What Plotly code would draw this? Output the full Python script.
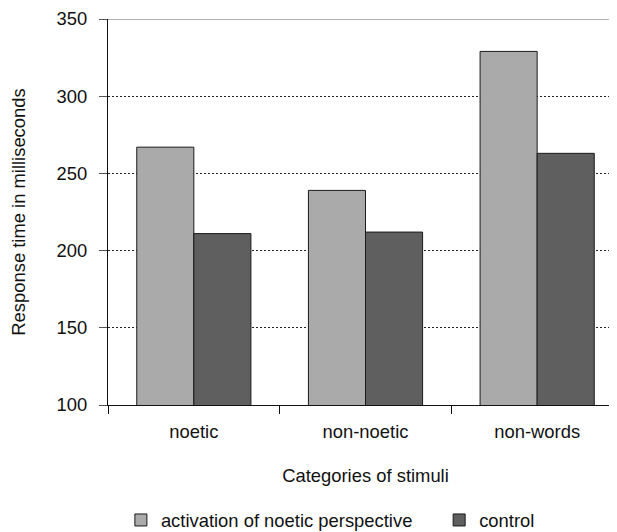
import plotly.graph_objects as go

categories = ["noetic", "non-noetic", "non-words"]
activation = [267, 239, 329]
control = [211, 212, 263]
series_names = ["activation of noetic perspective", "control"]
y_ticks = [100, 150, 200, 250, 300, 350]

font = dict(family="Liberation Sans, Arial, sans-serif", size=18.4, color="#111")

fig = go.Figure()
fig.add_bar(x=categories, y=activation, name=series_names[0], legend="legend",
            marker=dict(color="#aaaaaa", line=dict(color="#1a1a1a", width=1)))
fig.add_bar(x=categories, y=control, name=series_names[1], legend="legend2",
            marker=dict(color="#5f5f5f", line=dict(color="#1a1a1a", width=1)))

fig.update_layout(
    width=617, height=532,
    margin=dict(l=100, r=2, t=11, b=135, autoexpand=False),
    paper_bgcolor="white", plot_bgcolor="white",
    font=font,
    barmode="group", bargap=0.335, bargroupgap=0,
    showlegend=True,
    legend=dict(orientation="h", x=0.025, xanchor="left", y=-0.25, yanchor="top",
                font=font, bgcolor="rgba(0,0,0,0)"),
    legend2=dict(orientation="h", x=0.643, xanchor="left", y=-0.25, yanchor="top",
                 font=font, bgcolor="rgba(0,0,0,0)"),
)
fig.update_xaxes(
    range=[-0.5, 2.5], showline=True, linecolor="#111", linewidth=1.2,
    ticks="outside", ticklen=8, tickcolor="#111", tickson="boundaries",
    showgrid=False, ticklabelstandoff=10, automargin=False,
    title=dict(text="Categories of stimuli", standoff=27, font=font),
)
fig.update_yaxes(
    range=[100, 350], tickvals=y_ticks, showline=True, linecolor="#111", linewidth=1.2,
    ticks="outside", ticklen=8, tickcolor="#555",
    showgrid=True, gridcolor="#222", griddash="2px,2px", gridwidth=1,
    zeroline=False, ticklabelstandoff=8, automargin=False,
    title=dict(text="Response time in milliseconds", standoff=30, font=font),
)
fig.add_shape(type="line", xref="paper", yref="y", x0=0, x1=1, y0=350, y1=350,
              line=dict(color="#666", width=1.2))

fig.write_html("out.html")
